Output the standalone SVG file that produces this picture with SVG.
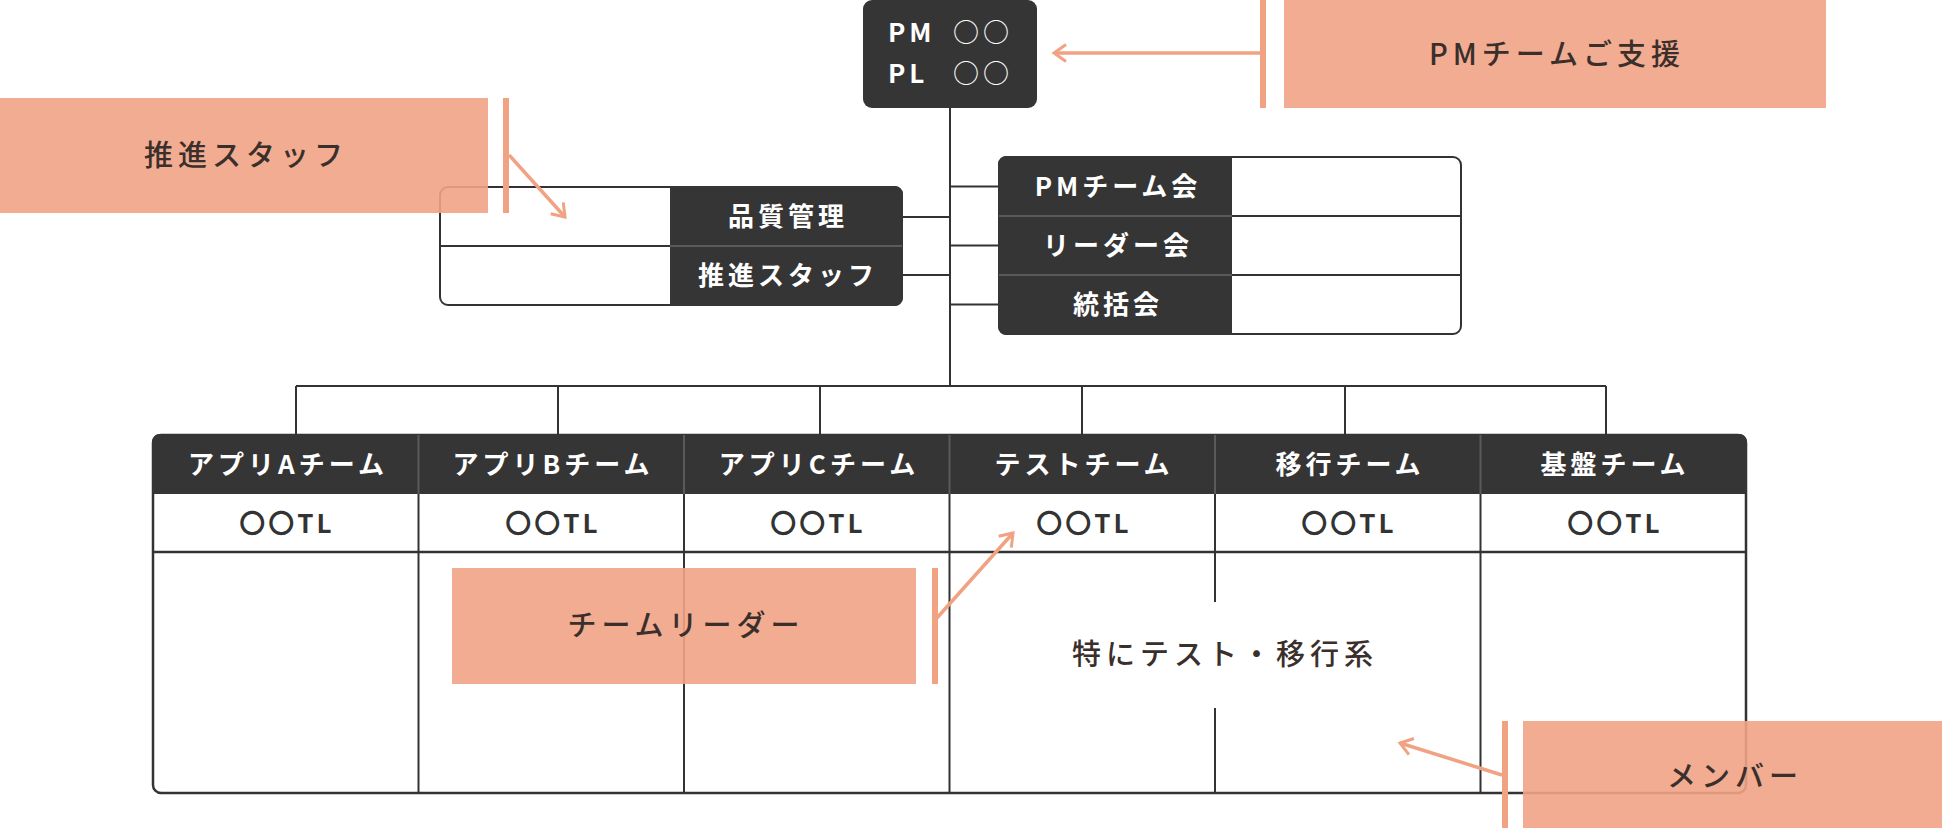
<svg xmlns="http://www.w3.org/2000/svg" width="1942" height="828" viewBox="0 0 1942 828">
<style>
.ln{stroke:#333;stroke-width:2;fill:none}
.dk{fill:#353535}
.dv{stroke:#5a5a5a;stroke-width:2}
.wt{font-family:"Noto Sans CJK JP","Noto Sans",sans-serif;font-weight:700;font-size:26px;fill:#fff;letter-spacing:4px;text-anchor:middle}
.tl{font-family:"Noto Sans CJK JP","Noto Sans",sans-serif;font-weight:700;font-size:26px;fill:#333;letter-spacing:3px;text-anchor:middle}
.sl{fill:#F1A385;opacity:0.9}
.bar{fill:#F0A283}
.st{font-family:"Noto Sans CJK JP","Noto Sans",sans-serif;font-weight:500;font-size:29px;fill:#3a2f2b;letter-spacing:5px;text-anchor:middle}
.ar{stroke:#F0A283;stroke-width:3.5;fill:none}
</style>
<defs>
<marker id="ah" markerWidth="18" markerHeight="20" refX="15" refY="10" orient="auto" markerUnits="userSpaceOnUse" viewBox="0 0 18 20">
<path d="M3,1.5 L15,10 L3,18.5" stroke="#F0A283" stroke-width="3" fill="none"/>
</marker>
</defs>

<g id="connectors">
<line class="ln" x1="950" y1="108" x2="950" y2="386"/>
<line class="ln" x1="902" y1="217" x2="950" y2="217"/>
<line class="ln" x1="902" y1="275" x2="950" y2="275"/>
<line class="ln" x1="950" y1="186.5" x2="999" y2="186.5"/>
<line class="ln" x1="950" y1="245.5" x2="999" y2="245.5"/>
<line class="ln" x1="950" y1="304.5" x2="999" y2="304.5"/>
<line class="ln" x1="296" y1="386" x2="1606" y2="386"/>
<line class="ln" x1="296" y1="386" x2="296" y2="435"/>
<line class="ln" x1="558" y1="386" x2="558" y2="435"/>
<line class="ln" x1="820" y1="386" x2="820" y2="435"/>
<line class="ln" x1="1082" y1="386" x2="1082" y2="435"/>
<line class="ln" x1="1345" y1="386" x2="1345" y2="435"/>
<line class="ln" x1="1606" y1="386" x2="1606" y2="435"/>
</g>

<g id="pm-pl">
<rect class="dk" x="863" y="0" width="174" height="108" rx="9"/>
<text class="wt" style="text-anchor:start" x="888" y="42">PM</text>
<text class="wt" style="text-anchor:start;font-weight:400" x="953" y="42">○○</text>
<text class="wt" style="text-anchor:start" x="888" y="83">PL</text>
<text class="wt" style="text-anchor:start;font-weight:400" x="953" y="83">○○</text>
</g>

<g id="staff-table">
<rect x="440" y="187" width="462" height="118" rx="8" fill="#fff" stroke="#333" stroke-width="2"/>
<path class="dk" d="M670,186 H894 A8,8 0 0 1 903,194 V298 A8,8 0 0 1 894,306 H670 Z"/>
<line class="ln" x1="440" y1="246" x2="670" y2="246"/>
<line class="dv" x1="670" y1="246" x2="902" y2="246"/>
<text class="wt" x="788" y="226">品質管理</text>
<text class="wt" x="788" y="285">推進スタッフ</text>
</g>

<g id="meeting-table">
<rect x="999" y="157" width="462" height="177" rx="8" fill="#fff" stroke="#333" stroke-width="2"/>
<path class="dk" d="M1232,156 H1007 A8,8 0 0 0 998,164 V327 A8,8 0 0 0 1007,335 H1232 Z"/>
<line class="ln" x1="1232" y1="216" x2="1461" y2="216"/>
<line class="ln" x1="1232" y1="275" x2="1461" y2="275"/>
<line class="dv" x1="999" y1="216" x2="1232" y2="216"/>
<line class="dv" x1="999" y1="275" x2="1232" y2="275"/>
<text class="wt" x="1118" y="196">PMチーム会</text>
<text class="wt" x="1118" y="255">リーダー会</text>
<text class="wt" x="1118" y="314">統括会</text>
</g>

<g id="team-table">
<rect x="153" y="435" width="1593" height="358" rx="8" fill="#fff" stroke="#333" stroke-width="2.5"/>
<path class="dk" d="M152,494 V443 A8,8 0 0 1 161,434 H1738 A8,8 0 0 1 1747,443 V494 Z"/>
<line class="ln" x1="153" y1="552" x2="1746" y2="552" style="stroke-width:2.5"/>
<g class="dv">
<line x1="418.5" y1="435" x2="418.5" y2="494"/>
<line x1="684" y1="435" x2="684" y2="494"/>
<line x1="949.5" y1="435" x2="949.5" y2="494"/>
<line x1="1215" y1="435" x2="1215" y2="494"/>
<line x1="1480.5" y1="435" x2="1480.5" y2="494"/>
</g>
<line class="ln" x1="418.5" y1="494" x2="418.5" y2="793"/>
<line class="ln" x1="684" y1="494" x2="684" y2="793"/>
<line class="ln" x1="949.5" y1="494" x2="949.5" y2="793"/>
<line class="ln" x1="1215" y1="494" x2="1215" y2="793"/>
<line class="ln" x1="1480.5" y1="494" x2="1480.5" y2="793"/>
<text class="wt" x="288" y="474">アプリAチーム</text>
<text class="wt" x="553" y="474">アプリBチーム</text>
<text class="wt" x="819" y="474">アプリCチーム</text>
<text class="wt" x="1084" y="474">テストチーム</text>
<text class="wt" x="1350" y="474">移行チーム</text>
<text class="wt" x="1615" y="474">基盤チーム</text>
<text class="tl" x="287" y="533">〇〇TL</text>
<text class="tl" x="553" y="533">〇〇TL</text>
<text class="tl" x="818" y="533">〇〇TL</text>
<text class="tl" x="1084" y="533">〇〇TL</text>
<text class="tl" x="1349" y="533">〇〇TL</text>
<text class="tl" x="1615" y="533">〇〇TL</text>
</g>

<g id="note-test">
<rect x="1060" y="602" width="325" height="106" fill="#fff"/>
<text class="st" x="1225" y="665">特にテスト・移行系</text>
</g>

<g id="label-pm-support">
<rect class="sl" x="1284" y="0" width="542" height="108"/>
<rect class="bar" x="1260" y="0" width="6" height="108"/>
<text class="st" x="1557" y="65">PMチームご支援</text>
<line class="ar" x1="1260" y1="53" x2="1054" y2="53" marker-end="url(#ah)"/>
</g>

<g id="label-staff">
<rect class="sl" x="0" y="98" width="488" height="115"/>
<rect class="bar" x="503" y="98" width="6" height="115"/>
<text class="st" x="246" y="166">推進スタッフ</text>
<line class="ar" x1="509" y1="155" x2="565" y2="217" marker-end="url(#ah)"/>
</g>

<g id="label-leader">
<rect class="sl" x="452" y="568" width="464" height="116"/>
<rect class="bar" x="932" y="568" width="6" height="116"/>
<text class="st" x="686" y="636">チームリーダー</text>
<line class="ar" x1="936" y1="619" x2="1013" y2="533" marker-end="url(#ah)"/>
</g>

<g id="label-member">
<rect class="sl" x="1523" y="721" width="430" height="120"/>
<rect class="bar" x="1502" y="721" width="6" height="120"/>
<text class="st" x="1735" y="787">メンバー</text>
<line class="ar" x1="1502" y1="775" x2="1400" y2="743" marker-end="url(#ah)"/>
</g>
</svg>
